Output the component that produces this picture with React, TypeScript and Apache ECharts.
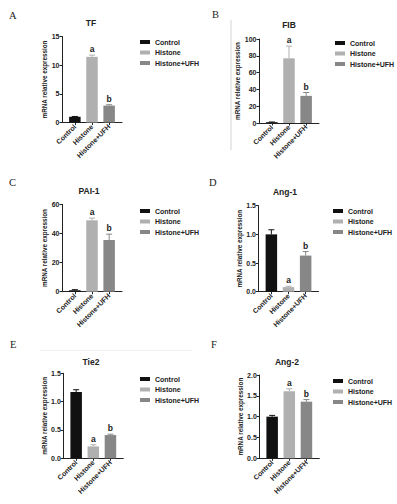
import React, { useEffect, useRef } from "react";
import * as echarts from "echarts";

// ---- data ----
const categories = ["Control", "Histone", "Histone+UFH"];
const xPositions = [0.75, 1.75, 2.75];
const panelLetters = ["A", "B", "C", "D", "E", "F"];
const panelTitles = ["TF", "FIB", "PAI-1", "Ang-1", "Tie2", "Ang-2"];
const sigLetters = ["", "a", "b"];

const tfMean = [1.0, 11.45, 2.95];
const tfErr = [0.05, 0.3, 0.15];
const fibMean = [1.0, 77, 32.3];
const fibErr = [0.2, 14.5, 4];
const pai1Mean = [1.0, 49, 35.5];
const pai1Err = [0.4, 1.5, 4];
const ang1Mean = [1.0, 0.08, 0.63];
const ang1Err = [0.08, 0.015, 0.07];
const tie2Mean = [1.17, 0.21, 0.41];
const tie2Err = [0.04, 0.03, 0.015];
const ang2Mean = [1.0, 1.61, 1.36];
const ang2Err = [0.03, 0.06, 0.05];

const yMax = [15, 100, 60, 1.5, 1.5, 2.0];
const yInterval = [5, 20, 20, 0.5, 0.5, 0.5];
const yDecimals = [0, 0, 0, 1, 1, 1];

const means = [tfMean, fibMean, pai1Mean, ang1Mean, tie2Mean, ang2Mean];
const errs = [tfErr, fibErr, pai1Err, ang1Err, tie2Err, ang2Err];

// ---- styling / layout ----
const colors = ["#111111", "#b0b0b0", "#878787"];
const FONT = "Liberation Sans";
const layout = [
  { left: 62, top: 36.5, height: 86, nameGap: 11.5, legendLeft: 140, legendTop: 38, titleX: 91, titleTop: 18.5, lx: 9, ly: 10 },
  { left: 259, top: 39, height: 84, nameGap: 15.5, legendLeft: 335, legendTop: 39, titleX: 289, titleTop: 20.5, lx: 212, ly: 9 },
  { left: 62, top: 204.3, height: 87.4, nameGap: 12.5, legendLeft: 140, legendTop: 207, titleX: 89, titleTop: 186.5, lx: 9, ly: 177 },
  { left: 258.5, top: 205.7, height: 86, nameGap: 16, legendLeft: 333, legendTop: 207, titleX: 285, titleTop: 187.5, lx: 209, ly: 177 },
  { left: 63.3, top: 373.3, height: 85, nameGap: 12, legendLeft: 140, legendTop: 375, titleX: 91, titleTop: 357.5, lx: 10, ly: 339 },
  { left: 259.3, top: 375, height: 83.3, nameGap: 14, legendLeft: 333, legendTop: 377, titleX: 287, titleTop: 357.5, lx: 211, ly: 339 },
];

function catName(v: number) {
  for (let i = 0; i < xPositions.length; i++) {
    if (Math.abs(xPositions[i] - v) < 0.01) return categories[i];
  }
  return "";
}

function buildOption() {
  const grid: any[] = [];
  const xAxis: any[] = [];
  const yAxis: any[] = [];
  const series: any[] = [];
  const legend: any[] = [];
  const title: any[] = [];

  layout.forEach((L, p) => {
    grid.push({ left: L.left, top: L.top, width: 60, height: L.height, containLabel: false });
    xAxis.push({
      type: "value",
      gridIndex: p,
      min: 0,
      max: 3.5,
      axisLine: { show: true, onZero: false, lineStyle: { color: "#222", width: 1 } },
      axisTick: { show: true, customValues: xPositions, length: 2.5, lineStyle: { color: "#222", width: 1 } },
      axisLabel: {
        customValues: xPositions,
        rotate: 45,
        margin: 3,
        formatter: (v: number) => catName(v),
        fontSize: 7,
        fontWeight: "bold",
        fontFamily: FONT,
        color: "#222",
      },
      splitLine: { show: false },
    });
    yAxis.push({
      type: "value",
      gridIndex: p,
      min: 0,
      max: yMax[p],
      interval: yInterval[p],
      name: "mRNA relative expression",
      nameLocation: "middle",
      nameGap: L.nameGap,
      nameTextStyle: { fontSize: 6.3, fontWeight: "bold", fontFamily: FONT, color: "#222" },
      axisLine: { show: true, lineStyle: { color: "#222", width: 1 } },
      axisTick: { show: true, length: 2.5, lineStyle: { color: "#222", width: 1 } },
      axisLabel: {
        margin: 2.5,
        fontSize: 7,
        fontWeight: "bold",
        fontFamily: FONT,
        color: "#222",
        formatter: (v: number) => v.toFixed(yDecimals[p]),
      },
      splitLine: { show: false },
    });

    categories.forEach((c, ci) => {
      series.push({
        type: "bar",
        name: c,
        xAxisIndex: p,
        yAxisIndex: p,
        barWidth: 11.5,
        barGap: "-100%",
        itemStyle: { color: colors[ci] },
        data: [[xPositions[ci], means[p][ci]]],
      });
    });

    series.push({
      type: "custom",
      xAxisIndex: p,
      yAxisIndex: p,
      clip: false,
      z: 3,
      data: categories.map((_, ci) => [xPositions[ci], means[p][ci], errs[p][ci], ci]),
      encode: { x: 0, y: 1 },
      renderItem: (params: any, api: any) => {
        const x = api.value(0);
        const m = api.value(1);
        const e = api.value(2);
        const ci = params.dataIndex;
        const base = api.coord([x, m]);
        const top = api.coord([x, m + e]);
        const col = colors[ci];
        const children: any[] = [
          { type: "line", shape: { x1: base[0], y1: base[1], x2: top[0], y2: top[1] }, style: { stroke: col, lineWidth: 1 } },
          { type: "line", shape: { x1: top[0] - 3, y1: top[1], x2: top[0] + 3, y2: top[1] }, style: { stroke: col, lineWidth: 1 } },
        ];
        if (sigLetters[ci]) {
          children.push({
            type: "text",
            x: top[0],
            y: top[1] - 1.5,
            style: {
              text: sigLetters[ci],
              align: "center",
              verticalAlign: "bottom",
              fontSize: 8.5,
              fontWeight: "bold",
              fontFamily: FONT,
              fill: "#222",
            },
          });
        }
        return { type: "group", children };
      },
    });

    legend.push({
      left: L.legendLeft,
      top: L.legendTop,
      orient: "vertical",
      icon: "rect",
      itemWidth: 10,
      itemHeight: 4,
      itemGap: 2.5,
      padding: 0,
      selectedMode: false,
      data: categories,
      textStyle: { fontSize: 7, fontWeight: "bold", fontFamily: FONT, color: "#222", lineHeight: 8 },
    });

    title.push({
      text: panelTitles[p],
      left: L.titleX,
      top: L.titleTop,
      textAlign: "center",
      padding: 0,
      textStyle: { fontSize: 8.5, fontWeight: "bold", fontFamily: FONT, color: "#222" },
    });
    title.push({
      text: panelLetters[p],
      left: L.lx,
      top: L.ly,
      padding: 0,
      textStyle: { fontSize: 10.5, fontWeight: "normal", fontFamily: "Liberation Serif", color: "#222" },
    });
  });

  return {
    animation: false,
    backgroundColor: "#ffffff",
    title,
    legend,
    grid,
    xAxis,
    yAxis,
    series,
    graphic: [
      { type: "line", shape: { x1: 231, y1: 20, x2: 231, y2: 150 }, style: { stroke: "#c8c8c8", lineWidth: 0.8 } },
      { type: "line", shape: { x1: 40, y1: 350.5, x2: 192, y2: 350.5 }, style: { stroke: "#f0f0f0", lineWidth: 0.8 } },
    ],
  };
}

export default function App() {
  const ref = useRef<HTMLDivElement>(null);
  useEffect(() => {
    if (!ref.current) return;
    const chart = echarts.init(ref.current, undefined, { renderer: "svg" });
    chart.setOption(buildOption() as any);
    return () => chart.dispose();
  }, []);
  return (
    <div
      ref={ref}
      style={{ position: "absolute", left: 0, top: 0, width: 397, height: 504, background: "#fff" }}
    />
  );
}
